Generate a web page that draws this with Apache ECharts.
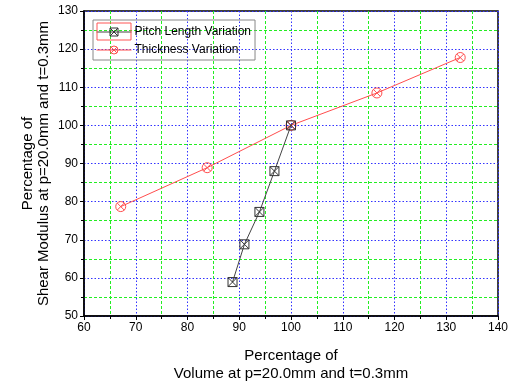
<!DOCTYPE html>
<html><head><meta charset="utf-8">
<script src="https://cdn.jsdelivr.net/npm/echarts@6/dist/echarts.min.js"></script>
<style>html,body{margin:0;padding:0;background:#fff}#c{width:516px;height:382px}</style>
</head><body><div id="c"></div>
<script>
const pitchX = [88.7, 91.0, 93.9, 96.8, 100.0];
const pitchY = [58.9, 68.8, 77.3, 88.0, 100.0];
const thickX = [67.1, 83.8, 100.0, 116.6, 132.7];
const thickY = [78.7, 88.9, 100.0, 108.5, 117.8];
const seriesNames = ['Pitch Length Variation', 'Thickness Variation'];
const xName = 'Percentage of\nVolume at p=20.0mm and t=0.3mm';
const yName = 'Percentage of\nShear Modulus at p=20.0mm and t=0.3mm';

const sqX = 'path://M0,0L10,0L10,10L0,10Z M0,0L10,10 M10,0L0,10';
const ciX = 'path://M10,5A5,5,0,1,1,0,5A5,5,0,1,1,10,5Z M1.46,1.46L8.54,8.54 M8.54,1.46L1.46,8.54';
const font = 'Liberation Sans, Arial, sans-serif';
const blackC = '#333';
const redC = '#ff4d4d';

function axisCommon() {
  return {
    axisLine: {show: true, onZero: false, lineStyle: {color: '#000', width: 1.5}},
    axisTick: {show: true, inside: false, length: 4, lineStyle: {color: '#000', width: 1}},
    minorTick: {show: true, splitNumber: 2, length: 3, lineStyle: {color: '#000', width: 1}},
    axisLabel: {color: '#000', fontSize: 12, fontFamily: font, margin: 6},
    splitLine: {show: true, lineStyle: {color: '#3333ff', type: [1.5, 2], width: 1}},
    minorSplitLine: {show: true, lineStyle: {color: '#22ee22', type: [3, 2], width: 1}},
    nameMoveOverlap: false,
    nameTextStyle: {color: '#000', fontSize: 15, fontFamily: font}
  };
}

const chart = echarts.init(document.getElementById('c'), null, {renderer: 'canvas'});
const xa = Object.assign(axisCommon(), {
  type: 'value', min: 60, max: 140, interval: 10,
  name: xName, nameLocation: 'middle', nameGap: 31
});
xa.nameTextStyle.lineHeight = 18;
const ya = Object.assign(axisCommon(), {
  type: 'value', min: 50, max: 130, interval: 10,
  name: yName, nameLocation: 'middle', nameGap: 32
});
ya.nameTextStyle.lineHeight = 16;

chart.setOption({
  animation: false,
  backgroundColor: '#fff',
  grid: {left: 84, right: 18, top: 11, bottom: 66, outerBoundsMode: 'none', containLabel: false,
         show: true, borderColor: '#000', borderWidth: 1.5, backgroundColor: 'transparent'},
  legend: {
    orient: 'vertical', left: 93, top: 20,
    borderColor: '#888', borderWidth: 1, padding: [6, 4, 4, 3],
    itemWidth: 35, itemHeight: 10, itemGap: 6,
    textStyle: {color: '#000', fontSize: 12, fontFamily: font, padding: [0,0,0,-2]},
    data: [
      {name: seriesNames[0], itemStyle: {color: 'rgba(0,0,0,0)', borderColor: blackC, borderWidth: 1}, lineStyle: {color: '#444', width: 1}},
      {name: seriesNames[1], itemStyle: {color: 'rgba(0,0,0,0)', borderColor: redC, borderWidth: 1}, lineStyle: {color: redC, width: 1}}
    ]
  },
  xAxis: xa,
  yAxis: ya,
  series: [
    {
      name: seriesNames[0], type: 'line',
      data: pitchX.map((x, i) => [x, pitchY[i]]),
      symbol: sqX, symbolSize: 9, showAllSymbol: true,
      lineStyle: {color: '#444', width: 1},
      itemStyle: {color: 'rgba(0,0,0,0)', borderColor: blackC, borderWidth: 1},
      z: 3
    },
    {
      name: seriesNames[1], type: 'line',
      data: thickX.map((x, i) => [x, thickY[i]]),
      symbol: ciX, symbolSize: 10, showAllSymbol: true,
      lineStyle: {color: redC, width: 1},
      itemStyle: {color: 'rgba(0,0,0,0)', borderColor: redC, borderWidth: 1},
      z: 2
    }
  ],
  graphic: [{
    type: 'rect', shape: {x: 97, y: 23, width: 34, height: 17},
    style: {fill: 'none', stroke: '#ff5555', lineWidth: 1}, z: 100
  }]
});
</script></body></html>
